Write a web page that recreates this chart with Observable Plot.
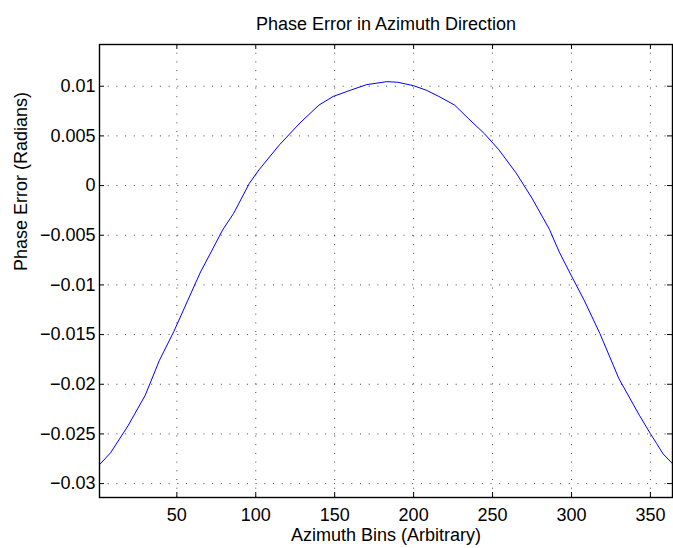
<!DOCTYPE html>
<html>
<head>
<meta charset="utf-8">
<script src="https://cdn.jsdelivr.net/npm/d3@7"></script>
<script src="https://cdn.jsdelivr.net/npm/@observablehq/plot@0.6"></script>
<style>
  html, body { margin: 0; padding: 0; background: #fff; }
  #chart svg { display: block; }
</style>
</head>
<body>
<div id="chart"></div>
<script>
// Values
const azimuthBins = [1, 8, 19, 30, 39, 48, 57, 65, 72, 79, 86, 96, 102, 115, 128, 140, 149, 160, 170, 183, 190, 200, 208, 216, 226, 235, 245, 254, 265, 275, 286, 292, 300, 308, 318, 330, 343, 350, 354, 358, 364];
const phaseError = [-0.0281, -0.0269, -0.0242, -0.0211, -0.01758, -0.01472, -0.01153, -0.0087, -0.0066, -0.00447, -0.00279, 0.00024, 0.00158, 0.0041, 0.0063, 0.0081, 0.00897, 0.0096, 0.01015, 0.01046, 0.0104, 0.01005, 0.0096, 0.00897, 0.0081, 0.0067, 0.0052, 0.0036, 0.00125, -0.00127, -0.0044, -0.0066, -0.0091, -0.01153, -0.01489, -0.01942, -0.02312, -0.02497, -0.02598, -0.0270, -0.0280];
const xTicks = [50, 100, 150, 200, 250, 300, 350];
const yTicks = [-0.03, -0.025, -0.02, -0.015, -0.01, -0.005, 0, 0.005, 0.01];
const xDomain = [1, 364];
const yDomain = [-0.0314, 0.0142];
const titleText = "Phase Error in Azimuth Direction";
const xLabel = "Azimuth Bins (Arbitrary)";
const yLabel = "Phase Error (Radians)";

const data = azimuthBins.map((x, i) => ({x, y: phaseError[i]}));

const W = 673, H = 548;
const mL = 99, mR = 1, mT = 44, mB = 51;
const pw = W - mL - mR, ph = H - mT - mB;
const tick = 5;
const font = "'Liberation Sans', Arial, Helvetica, sans-serif";
const fs = 18;
const fmtY = d => d === 0 ? "0" : String(+d.toFixed(3)).replace("-", "\u2212");
const grid = {stroke: "#000", strokeOpacity: 0.75, strokeWidth: 1, strokeDasharray: "1,7.7"};

const chart = Plot.plot({
  width: W,
  height: H,
  marginLeft: mL,
  marginRight: mR,
  marginTop: mT,
  marginBottom: mB,
  style: {fontFamily: font, fontSize: fs + "px", color: "#000", background: "#fff"},
  x: {domain: xDomain, ticks: xTicks},
  y: {domain: yDomain, ticks: yTicks},
  marks: [
    Plot.gridX(xTicks, grid),
    Plot.gridY(yTicks, grid),
    // inward tick marks on all four sides
    Plot.tickX(xTicks, {x: d => d, insetTop: ph - tick, stroke: "#000", strokeWidth: 1}),
    Plot.tickX(xTicks, {x: d => d, insetBottom: ph - tick, stroke: "#000", strokeWidth: 1}),
    Plot.tickY(yTicks, {y: d => d, insetRight: pw - tick, stroke: "#000", strokeWidth: 1}),
    Plot.tickY(yTicks, {y: d => d, insetLeft: pw - tick, stroke: "#000", strokeWidth: 1}),
    Plot.line(data, {x: "x", y: "y", stroke: "#0000ff", strokeWidth: 1}),
    Plot.frame({stroke: "#000", strokeWidth: 1.4}),
    Plot.axisX(xTicks, {tickSize: 0, tickPadding: 11, label: null, fontSize: fs}),
    Plot.axisY(yTicks, {tickSize: 0, tickPadding: 4, label: null, tickFormat: fmtY, fontSize: fs}),
    Plot.text([titleText], {frameAnchor: "top", dy: -20, lineAnchor: "middle", fontSize: fs, fill: "#000"}),
    Plot.text([xLabel], {frameAnchor: "bottom", dy: 38, lineAnchor: "middle", fontSize: fs, fill: "#000"}),
    Plot.text([yLabel], {frameAnchor: "left", dx: -78, rotate: -90, lineAnchor: "middle", fontSize: fs, fill: "#000"})
  ]
});
document.getElementById("chart").appendChild(chart);
</script>
</body>
</html>
